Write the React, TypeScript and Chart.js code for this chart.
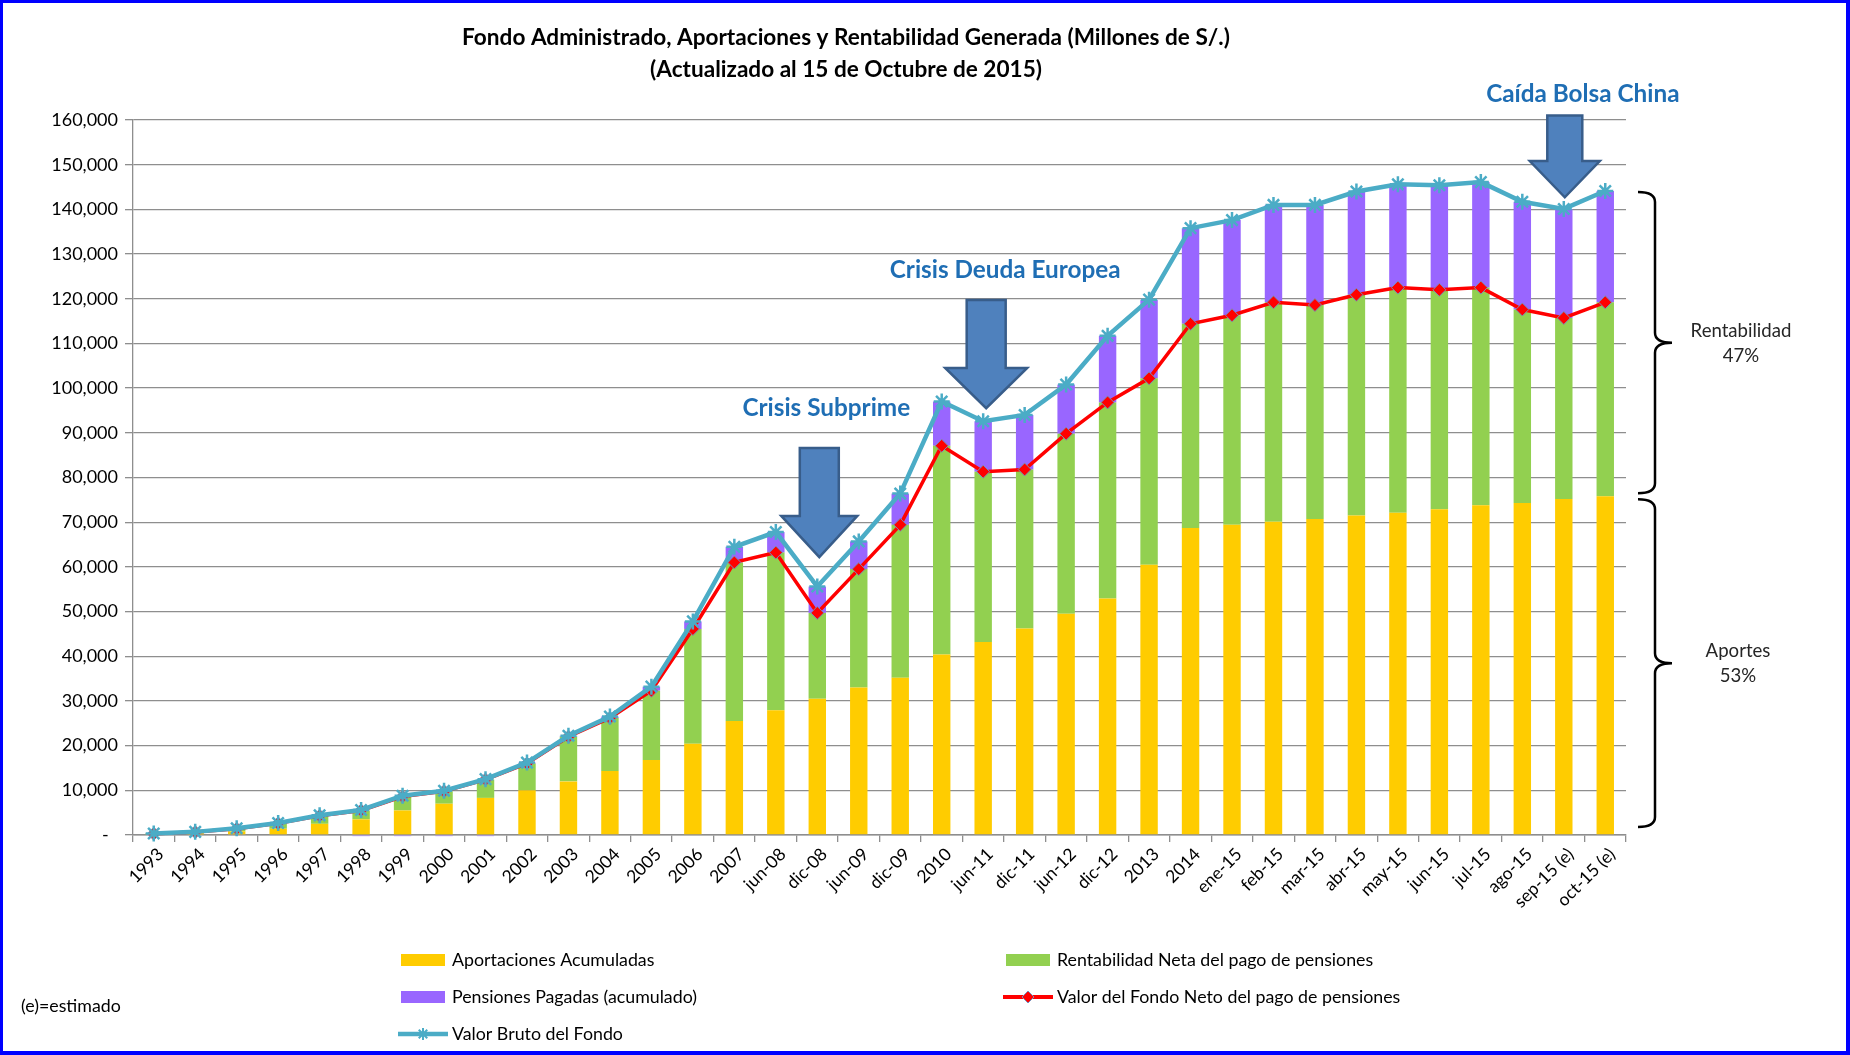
import React, { useEffect, useRef } from 'react';
import { Chart, registerables } from 'chart.js';

Chart.register(...registerables);

const categories = [
  '1993', '1994', '1995', '1996', '1997', '1998', '1999', '2000', '2001', '2002',
  '2003', '2004', '2005', '2006', '2007', 'jun-08', 'dic-08', 'jun-09', 'dic-09', '2010',
  'jun-11', 'dic-11', 'jun-12', 'dic-12', '2013', '2014', 'ene-15', 'feb-15', 'mar-15', 'abr-15',
  'may-15', 'jun-15', 'jul-15', 'ago-15', 'sep-15 (e)', 'oct-15 (e)',
];

const aportaciones = [
  150, 400, 800, 1400, 2500, 3500, 5500, 7000, 8300, 10000,
  12000, 14300, 16800, 20400, 25500, 27900, 30500, 33000, 35200, 40400,
  43200, 46200, 49500, 52900, 60500, 68700, 69400, 70100, 70700, 71500,
  72100, 72900, 73800, 74300, 75200, 75800,
];

const rentabilidadNeta = [
  150, 250, 600, 1200, 1800, 2000, 3100, 2800, 4100, 6000,
  10000, 11900, 15500, 25700, 35500, 35300, 19200, 26500, 34200, 46700,
  38100, 35600, 40300, 43900, 41700, 45700, 46900, 49100, 47900, 49400,
  50400, 49100, 48700, 43300, 40500, 43400,
];

const pensionesPagadas = [
  50, 50, 100, 100, 100, -250, -250, -250, -250, 200,
  200, 300, 900, 1700, 3500, 4600, 5900, 6200, 7000, 9900,
  11300, 12200, 11000, 14900, 17600, 21400, 21300, 21800, 22400, 23100,
  23100, 23400, 23600, 24100, 24400, 24900,
];

const valorFondoNeto = [
  300, 650, 1400, 2600, 4300, 5500, 8600, 9800, 12400, 16000,
  22000, 26200, 32300, 46100, 61000, 63200, 49700, 59500, 69400, 87100,
  81300, 81800, 89800, 96800, 102200, 114400, 116300, 119200, 118600, 120900,
  122500, 122000, 122500, 117600, 115700, 119200,
];

const valorBrutoFondo = [
  350, 700, 1500, 2700, 4400, 5600, 8800, 9900, 12500, 16200,
  22200, 26500, 33200, 47800, 64500, 67800, 55600, 65700, 76400, 97000,
  92600, 94000, 100800, 111700, 119800, 135800, 137600, 141000, 141000, 144000,
  145600, 145400, 146100, 141700, 140100, 144100,
];

const yMin = 0;
const yMax = 160000;
const yStep = 10000;

const titleLines = [
  'Fondo Administrado, Aportaciones y Rentabilidad Generada (Millones de S/.)',
  '(Actualizado al 15 de Octubre de 2015)',
];

const crisisNotes = [
  { label: 'Crisis Subprime', category: 'dic-08', top: 86600, headStart: 71400, tip: 62200, textValue: 95500, textDx: 9, arrowDx: 2, body: 39, head: 76 },
  { label: 'Crisis Deuda Europea', category: 'jun-11', top: 119700, headStart: 104500, tip: 95500, textValue: 126500, textDx: 22, arrowDx: 3, body: 39, head: 82 },
  { label: 'Caída Bolsa China', category: 'sep-15 (e)', top: 161000, headStart: 150800, tip: 142700, textValue: 165800, textDx: 19, arrowDx: 1, body: 35, head: 70 },
];

const braceLabels = [
  ['Rentabilidad', '47%'],
  ['Aportes', '53%'],
];

const YELLOW = '#FFCC00';
const GREEN = '#92D050';
const PURPLE = '#9966FF';
const RED = '#FF0000';
const CYAN = '#4BACC6';
const GRID = '#8e8e8e';
const FONT = 'Lato, "Open Sans", sans-serif';

function drawDiamond(ctx: CanvasRenderingContext2D, x: number, y: number, r: number) {
  ctx.beginPath();
  ctx.moveTo(x, y - r);
  ctx.lineTo(x + r, y);
  ctx.lineTo(x, y + r);
  ctx.lineTo(x - r, y);
  ctx.closePath();
  ctx.fillStyle = RED;
  ctx.fill();
  ctx.lineWidth = 1;
  ctx.strokeStyle = '#7a8fb8';
  ctx.stroke();
}

function drawStar(ctx: CanvasRenderingContext2D, x: number, y: number, r: number) {
  ctx.beginPath();
  ctx.moveTo(x, y - r);
  ctx.lineTo(x, y + r);
  ctx.moveTo(x - r, y);
  ctx.lineTo(x + r, y);
  const d = r * Math.SQRT1_2;
  ctx.moveTo(x - d, y - d);
  ctx.lineTo(x + d, y + d);
  ctx.moveTo(x - d, y + d);
  ctx.lineTo(x + d, y - d);
  ctx.strokeStyle = CYAN;
  ctx.lineWidth = 2;
  ctx.stroke();
}

function drawBrace(ctx: CanvasRenderingContext2D, x0: number, xs: number, xt: number, yTop: number, yBot: number) {
  const yMid = (yTop + yBot) / 2;
  const r = 10;
  ctx.beginPath();
  ctx.moveTo(x0, yTop);
  ctx.quadraticCurveTo(xs, yTop, xs, yTop + r);
  ctx.lineTo(xs, yMid - r);
  ctx.quadraticCurveTo(xs, yMid, xt, yMid);
  ctx.quadraticCurveTo(xs, yMid, xs, yMid + r);
  ctx.lineTo(xs, yBot - r);
  ctx.quadraticCurveTo(xs, yBot, x0, yBot);
  ctx.strokeStyle = '#000';
  ctx.lineWidth = 2.5;
  ctx.stroke();
}

const decorPlugin = {
  id: 'decor',
  afterDraw(chart: any) {
    const ctx: CanvasRenderingContext2D = chart.ctx;
    const xs = chart.scales.x;
    const ys = chart.scales.y;
    const area = chart.chartArea;
    ctx.save();

    // Title
    ctx.fillStyle = '#000';
    ctx.textAlign = 'center';
    ctx.textBaseline = 'middle';
    ctx.font = `bold 22.6px ${FONT}`;
    ctx.fillText(titleLines[0], 846, 38);
    ctx.fillText(titleLines[1], 846, 70);

    // Crisis arrows and labels
    crisisNotes.forEach((n) => {
      const idx = categories.indexOf(n.category);
      const cx = xs.getPixelForValue(idx);
      const ax = cx + n.arrowDx;
      const yTop = ys.getPixelForValue(n.top);
      const yHead = ys.getPixelForValue(n.headStart);
      const yTip = ys.getPixelForValue(n.tip);
      ctx.beginPath();
      ctx.moveTo(ax - n.body / 2, yTop);
      ctx.lineTo(ax + n.body / 2, yTop);
      ctx.lineTo(ax + n.body / 2, yHead);
      ctx.lineTo(ax + n.head / 2, yHead);
      ctx.lineTo(ax, yTip);
      ctx.lineTo(ax - n.head / 2, yHead);
      ctx.lineTo(ax - n.body / 2, yHead);
      ctx.closePath();
      ctx.fillStyle = '#4F81BD';
      ctx.fill();
      ctx.lineWidth = 2.5;
      ctx.lineJoin = 'miter';
      ctx.strokeStyle = '#385D8A';
      ctx.stroke();

      ctx.font = `bold 24.3px ${FONT}`;
      ctx.fillStyle = '#1F6EB4';
      ctx.textAlign = 'center';
      ctx.textBaseline = 'middle';
      ctx.fillText(n.label, cx + n.textDx, ys.getPixelForValue(n.textValue));
    });

    // Braces
    const last = categories.length - 1;
    const aportLast = aportaciones[last];
    const brutoLast = valorBrutoFondo[last];
    const bx0 = area.right + 12;
    const bxs = area.right + 29;
    const bxt = area.right + 46;
    const upperTop = ys.getPixelForValue(brutoLast) + 1;
    const upperBot = ys.getPixelForValue(aportLast) - 3;
    const lowerTop = ys.getPixelForValue(aportLast) + 3;
    const lowerBot = ys.getPixelForValue(yMin) - 8;
    drawBrace(ctx, bx0, bxs, bxt, upperTop, upperBot);
    drawBrace(ctx, bx0, bxs, bxt, lowerTop, lowerBot);
    ctx.font = `18.6px ${FONT}`;
    ctx.fillStyle = '#262626';
    ctx.textAlign = 'center';
    ctx.textBaseline = 'middle';
    const um = (upperTop + upperBot) / 2;
    const lm = (lowerTop + lowerBot) / 2;
    ctx.fillText(braceLabels[0][0], 1741, um - 12);
    ctx.fillText(braceLabels[0][1], 1741, um + 13);
    ctx.fillText(braceLabels[1][0], 1738, lm - 12);
    ctx.fillText(braceLabels[1][1], 1738, lm + 13);

    // Legend
    const ds = chart.data.datasets;
    const items = [
      { d: ds[0], kind: 'box', x: 401, y: 960 },
      { d: ds[1], kind: 'box', x: 1006, y: 960 },
      { d: ds[2], kind: 'box', x: 401, y: 997 },
      { d: ds[3], kind: 'neto', x: 1006, y: 997 },
      { d: ds[4], kind: 'bruto', x: 401, y: 1034 },
    ];
    ctx.font = `17.8px ${FONT}`;
    ctx.textAlign = 'left';
    ctx.textBaseline = 'middle';
    items.forEach((it) => {
      if (it.kind === 'box') {
        ctx.fillStyle = it.d.backgroundColor;
        ctx.fillRect(it.x, it.y - 6, 44, 12);
      } else {
        ctx.beginPath();
        ctx.moveTo(it.x - 3, it.y);
        ctx.lineTo(it.x + 47, it.y);
        ctx.strokeStyle = it.d.borderColor;
        ctx.lineWidth = it.kind === 'neto' ? 4 : 4.5;
        ctx.stroke();
        if (it.kind === 'neto') drawDiamond(ctx, it.x + 22, it.y, 6);
        else drawStar(ctx, it.x + 22, it.y, 6);
      }
      ctx.fillStyle = '#000';
      ctx.fillText(it.d.label, it.x + 51, it.y);
    });
    ctx.fillText('(e)=estimado', 21, 1006);

    // Frame
    ctx.fillStyle = '#0000FF';
    ctx.fillRect(0, 0, chart.width, 3);
    ctx.fillRect(0, 0, 3, chart.height);
    ctx.fillRect(chart.width - 4, 0, 4, chart.height);
    ctx.fillRect(0, chart.height - 4, chart.width, 4);
    ctx.restore();
  },
};

export default function App() {
  const ref = useRef<HTMLCanvasElement | null>(null);

  useEffect(() => {
    document.body.style.margin = '0';
    const canvas = ref.current;
    if (!canvas) return;
    const chart = new Chart(canvas, {
      type: 'bar',
      data: {
        labels: categories,
        datasets: [
          { type: 'bar', label: 'Aportaciones Acumuladas', data: aportaciones, backgroundColor: YELLOW, stack: 'bars', order: 3, barPercentage: 0.42, categoryPercentage: 1 },
          { type: 'bar', label: 'Rentabilidad Neta del pago de pensiones', data: rentabilidadNeta, backgroundColor: GREEN, stack: 'bars', order: 3, barPercentage: 0.42, categoryPercentage: 1 },
          { type: 'bar', label: 'Pensiones Pagadas (acumulado)', data: pensionesPagadas, backgroundColor: PURPLE, stack: 'bars', order: 3, barPercentage: 0.42, categoryPercentage: 1, clip: false },
          {
            type: 'line', label: 'Valor del Fondo Neto del pago de pensiones', data: valorFondoNeto, stack: 'neto', order: 1,
            borderColor: RED, backgroundColor: RED, borderWidth: 3.5, tension: 0, clip: false,
            pointStyle: 'rectRot', pointRadius: 6.5, pointBackgroundColor: RED, pointBorderColor: '#7a8fb8', pointBorderWidth: 1,
          },
          {
            type: 'line', label: 'Valor Bruto del Fondo', data: valorBrutoFondo, stack: 'bruto', order: 0,
            borderColor: CYAN, backgroundColor: CYAN, borderWidth: 4.5, tension: 0, clip: false,
            pointStyle: 'star', pointRadius: 8, pointBorderColor: CYAN, pointBorderWidth: 2.5,
          },
        ] as any,
      },
      options: {
        responsive: false,
        animation: false,
        devicePixelRatio: 1,
        events: [],
        layout: { padding: { left: 0, right: 224, top: 120, bottom: 0 } },
        plugins: { legend: { display: false }, tooltip: { enabled: false }, title: { display: false } },
        scales: {
          x: {
            type: 'category',
            stacked: true,
            offset: true,
            grid: { display: true, drawOnChartArea: false, drawTicks: true, tickLength: 7, color: GRID, lineWidth: 1.3, offset: true },
            border: { display: true, color: GRID, width: 1.5 },
            ticks: { autoSkip: false, maxRotation: 45, minRotation: 45, color: '#000', font: { family: FONT, size: 17.5 }, padding: 2, labelOffset: 7 },
            afterFit: (s: any) => { s.height = 220; },
          },
          y: {
            stacked: true,
            min: yMin,
            max: yMax,
            grid: { color: GRID, lineWidth: 1.3, tickLength: 8, drawTicks: true },
            border: { display: true, color: GRID, width: 1.3 },
            ticks: {
              stepSize: yStep,
              color: '#000',
              font: { family: FONT, size: 18 },
              padding: 7,
              callback: (v: any) => (Number(v) === 0 ? '-  ' : Number(v).toLocaleString('en-US')),
            },
            afterFit: (s: any) => { s.width = 133; },
          },
        },
      } as any,
      plugins: [decorPlugin],
    });
    return () => chart.destroy();
  }, []);

  return (
    <div style={{ position: 'absolute', left: 0, top: 0, width: 1850, height: 1055, background: '#fff' }}>
      <canvas ref={ref} width={1850} height={1055} style={{ display: 'block', width: 1850, height: 1055 }} />
    </div>
  );
}
